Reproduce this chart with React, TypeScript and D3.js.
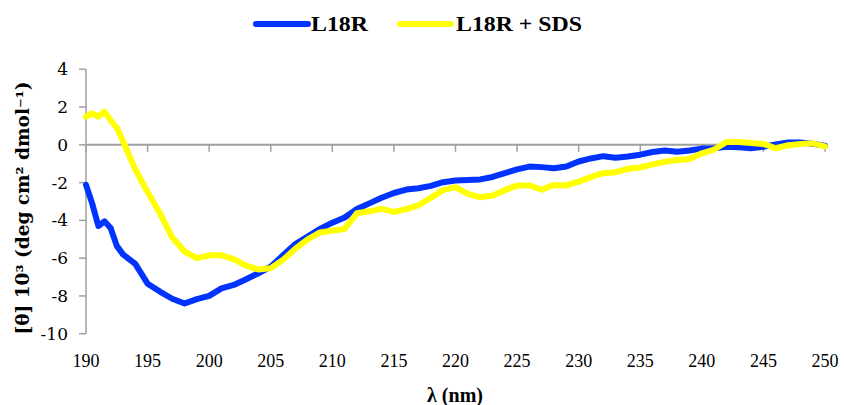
import React from "react";
import * as d3 from "d3";

const wavelengths = [
  190, 190.5, 191, 191.5, 192, 192.5, 193, 194, 195, 196, 197, 198, 199, 200,
  201, 202, 203, 204, 205, 206, 207, 208, 209, 210, 211, 212, 213, 214, 215,
  216, 217, 218, 219, 220, 221, 222, 223, 224, 225, 226, 227, 228, 229, 230,
  231, 232, 233, 234, 235, 236, 237, 238, 239, 240, 241, 242, 243, 244, 245,
  246, 247, 248, 249, 250,
];

const l18r = [
  -2.12, -3.1, -4.3, -4.05, -4.4, -5.35, -5.8, -6.3, -7.35, -7.77, -8.15, -8.4, -8.17, -8.0,
  -7.6, -7.42, -7.12, -6.8, -6.45, -5.85, -5.25, -4.85, -4.45, -4.12, -3.85, -3.4, -3.1, -2.8, -2.55,
  -2.37, -2.3, -2.17, -1.98, -1.89, -1.86, -1.83, -1.7, -1.5, -1.3, -1.15, -1.18, -1.24, -1.15, -0.88,
  -0.72, -0.6, -0.68, -0.62, -0.52, -0.38, -0.3, -0.36, -0.3, -0.2, -0.18, -0.1, -0.13, -0.18, -0.1,
  0.02, 0.12, 0.12, 0.06, -0.04,
];

const l18rSds = [
  1.49, 1.67, 1.5, 1.75, 1.3, 0.9, 0.2, -1.3, -2.5, -3.62, -4.9, -5.65, -6.0, -5.85,
  -5.85, -6.05, -6.4, -6.6, -6.53, -6.09, -5.5, -5.0, -4.64, -4.55, -4.45, -3.62, -3.52, -3.39, -3.55,
  -3.4, -3.2, -2.8, -2.4, -2.24, -2.6, -2.78, -2.7, -2.4, -2.15, -2.15, -2.38, -2.12, -2.15, -1.95,
  -1.7, -1.5, -1.45, -1.27, -1.2, -1.03, -0.9, -0.8, -0.75, -0.45, -0.25, 0.15, 0.15, 0.1, 0.05,
  -0.18, -0.02, 0.05, 0.08, -0.08,
];

const xTicks = [190, 195, 200, 205, 210, 215, 220, 225, 230, 235, 240, 245, 250];
const yTicks = [4, 2, 0, -2, -4, -6, -8, -10];

const seriesNames = ["L18R", "L18R + SDS"];
const seriesColors = ["#0033ff", "#ffff00"];

export default function App() {
  const x = d3.scaleLinear().domain([190, 250]).range([86, 825]);
  const y = d3.scaleLinear().domain([-10, 4]).range([333.7, 69.3]);
  const line = d3
    .line<number>()
    .x((_, i) => x(wavelengths[i]))
    .y((d) => y(d));
  const axisColor = "#a0a0a0";
  const fA = { fontFamily: "DejaVu Serif" };
  const fB = { fontFamily: "Times New Roman" };
  const fC = { fontFamily: "Liberation Serif" };
  const series = [l18r, l18rSds];

  return (
    <svg
      width={844}
      height={405}
      style={{ position: "absolute", left: 0, top: 0, background: "#fff" }}
    >
      {/* y axis */}
      <line x1={x(190)} x2={x(190)} y1={y(4)} y2={y(-10)} stroke={axisColor} strokeWidth={1.5} />
      {yTicks.map((t) => (
        <g key={"y" + t}>
          <line x1={x(190) - 7} x2={x(190)} y1={y(t)} y2={y(t)} stroke={axisColor} strokeWidth={1.5} />
          <text x={68} y={y(t)} dy="0.35em" textAnchor="end" style={fA} fontSize={17} fill="#000">
            {t}
          </text>
        </g>
      ))}
      {/* x axis at zero */}
      <line x1={x(190)} x2={x(250)} y1={y(0)} y2={y(0)} stroke={axisColor} strokeWidth={2} />
      {xTicks.map((t) => (
        <g key={"x" + t}>
          <line x1={x(t)} x2={x(t)} y1={y(0)} y2={y(0) + 7} stroke={axisColor} strokeWidth={1.5} />
          <text x={x(t)} y={367} textAnchor="middle" style={fB} fontSize={18} fill="#000">
            {t}
          </text>
        </g>
      ))}
      {/* series */}
      {series.map((s, i) => (
        <path
          key={seriesNames[i]}
          d={line(s) || ""}
          fill="none"
          stroke={seriesColors[i]}
          strokeWidth={6}
          strokeLinejoin="round"
          strokeLinecap="round"
        />
      ))}
      {/* legend */}
      <line x1={256} x2={308} y1={24} y2={24} stroke={seriesColors[0]} strokeWidth={6} strokeLinecap="round" />
      <text x={311} y={31} style={fC} fontWeight="bold" fontSize={20} textLength={57} lengthAdjust="spacingAndGlyphs">
        {seriesNames[0]}
      </text>
      <line x1={400} x2={451} y1={24} y2={24} stroke={seriesColors[1]} strokeWidth={6} strokeLinecap="round" />
      <text x={456} y={31} style={fC} fontWeight="bold" fontSize={20} textLength={126} lengthAdjust="spacingAndGlyphs">
        {seriesNames[1]}
      </text>
      {/* axis titles */}
      <text x={455} y={402} textAnchor="middle" style={fC} fontWeight="bold" fontSize={20}>
        λ (nm)
      </text>
      <text
        transform="translate(29,208) rotate(-90)"
        textAnchor="middle"
        style={fA}
        fontWeight="bold"
        fontSize={18}
        textLength={253}
        lengthAdjust="spacingAndGlyphs"
      >
        [θ] 10³ (deg cm² dmol⁻¹)
      </text>
    </svg>
  );
}
